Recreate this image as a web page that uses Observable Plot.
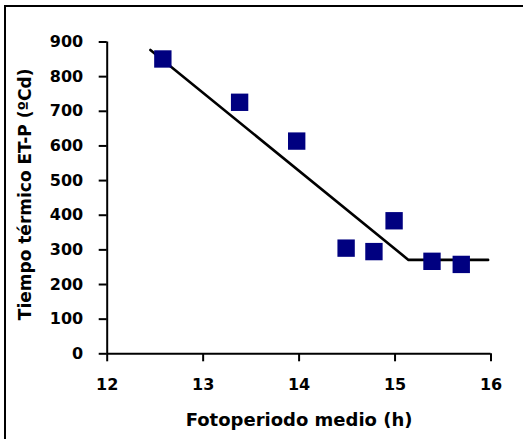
<!DOCTYPE html>
<html>
<head>
<meta charset="utf-8">
<script src="https://cdn.jsdelivr.net/npm/d3@7"></script>
<script src="https://cdn.jsdelivr.net/npm/@observablehq/plot@0.6"></script>
<style>
  body { margin: 0; background: #fff; }
  #wrap { position: relative; width: 523px; height: 439px; overflow: hidden; }
  #chart svg { display: block; }
  #chart svg text { font-weight: bold; }
  #border { position: absolute; left: 4px; top: 5px; width: 560px; height: 480px;
            border-left: 2.5px solid #000; border-top: 2.5px solid #000; pointer-events: none; }
</style>
</head>
<body>
<div id="wrap"><div id="chart"></div><div id="border"></div></div>
<script>
// Observed points
const fotoperiodo = [12.58, 13.38, 13.975, 14.49, 14.78, 14.99, 15.385, 15.69];
const tiempoTermico = [851, 726, 614, 305, 295, 384, 267, 258];
// Fitted broken-line (bilinear) model
const fitX = [12.45, 15.14, 15.97];
const fitY = [877, 271, 271];
// Axes
const xTicks = [12, 13, 14, 15, 16];
const yTicks = [0, 100, 200, 300, 400, 500, 600, 700, 800, 900];
const xLabel = "Fotoperiodo medio (h)";
const yLabel = "Tiempo térmico ET-P (ºCd)";

const points = fotoperiodo.map((x, i) => ({x, y: tiempoTermico[i]}));
const fit = fitX.map((x, i) => ({x, y: fitY[i]}));

const font = "DejaVu Sans";

const chart = Plot.plot({
  width: 523,
  height: 439,
  marginLeft: 106.7,
  marginRight: 32.5,
  marginTop: 41.5,
  marginBottom: 85.7,
  style: {fontFamily: font, fontSize: "16px", fontWeight: "bold", color: "#000", background: "#fff"},
  x: {domain: [12, 16]},
  y: {domain: [0, 900]},
  marks: [
    Plot.axisX({ticks: xTicks, tickFormat: d => String(d), tickSize: 8, tickPadding: 17, strokeWidth: 2, label: null, fontSize: 16, fontWeight: "bold"}),
    Plot.axisY({ticks: yTicks, tickFormat: d => String(d), tickSize: 8, tickPadding: 16, strokeWidth: 2, label: null, fontSize: 16, fontWeight: "bold"}),
    Plot.ruleY([0], {stroke: "#000", strokeWidth: 2}),
    Plot.ruleX([12], {stroke: "#000", strokeWidth: 2}),
    Plot.line(fit, {x: "x", y: "y", stroke: "#000", strokeWidth: 2.6}),
    Plot.dot(points, {x: "x", y: "y", symbol: "square", r: 9.8, fill: "#000080", stroke: "none"}),
    Plot.text([yLabel], {frameAnchor: "left", textAnchor: "middle", rotate: -90, dx: -76.7, dy: -3.5, lineAnchor: "bottom", fontSize: 17, fontWeight: "bold", fontFamily: font, fill: "#000"}),
    Plot.text([xLabel], {frameAnchor: "bottom", textAnchor: "middle", dy: 72, lineAnchor: "bottom", fontSize: 18, fontWeight: "bold", fontFamily: font, fill: "#000"})
  ]
});

document.getElementById("chart").append(chart);
</script>
</body>
</html>
